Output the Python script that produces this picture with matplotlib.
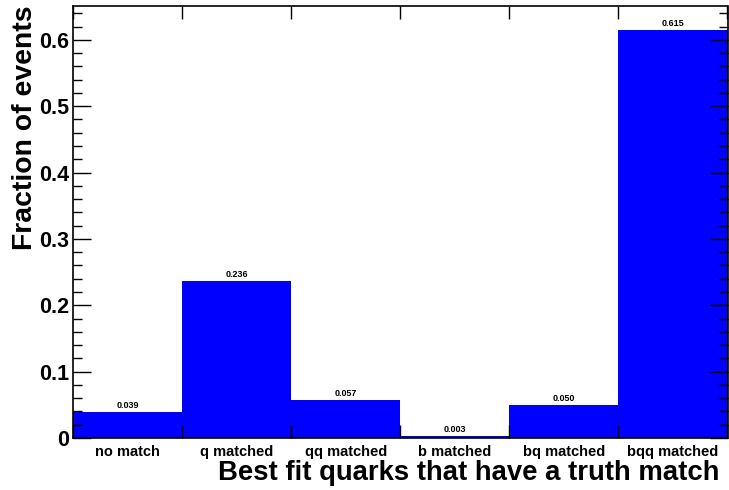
import numpy as np
import matplotlib
matplotlib.use("Agg")
import matplotlib.pyplot as plt
from matplotlib.ticker import MultipleLocator

# data
categories = ["no match", "q matched", "qq matched", "b matched", "bq matched", "bqq matched"]
fractions = [0.039, 0.236, 0.057, 0.003, 0.050, 0.615]

plt.rcParams['font.family'] = ['Liberation Sans', 'DejaVu Sans']
plt.rcParams['font.weight'] = 'bold'

W, H = 729, 490
fig = plt.figure(figsize=(W / 100, H / 100), dpi=100)
ax = fig.add_axes([73 / W, 1 - 438 / H, (727.5 - 73) / W, (438 - 6) / H])

x = np.arange(len(categories))
ax.bar(x, fractions, width=1.0, color='#0000ff', linewidth=0)

for xi, v in zip(x, fractions):
    ax.text(xi, v + 0.003, "%.3f" % v, ha='center', va='bottom', fontsize=6.5, fontweight='bold')

ax.set_xlim(-0.5, len(categories) - 0.5)
ax.set_ylim(0, 0.651)

# x ticks at bin edges, labels in bin centres
ax.set_xticks(np.arange(len(categories) + 1) - 0.5)
ax.set_xticklabels([])
ax.set_xticks(x, minor=True)
ax.set_xticklabels(categories, minor=True, fontsize=10.5, fontweight='bold')
ax.tick_params(axis='x', which='major', direction='in', length=9.5, width=1, top=True)
ax.tick_params(axis='x', which='minor', length=0, pad=5)

ax.yaxis.set_major_locator(MultipleLocator(0.1))
ax.yaxis.set_minor_locator(MultipleLocator(0.02))
ax.yaxis.set_major_formatter(plt.FuncFormatter(lambda v, p: "0" if v == 0 else "%.1f" % v))
ax.tick_params(axis='y', which='major', direction='in', length=13, width=1, right=True, labelsize=15.5, pad=3)
ax.tick_params(axis='y', which='minor', direction='in', length=6.5, width=1, right=True)
for lab in ax.get_yticklabels():
    lab.set_fontweight('bold')

for s in ax.spines.values():
    s.set_linewidth(1.2)

fig.text(720 / W, 10 / H, "Best fit quarks that have a truth match", ha='right', va='baseline',
         fontsize=19.8, fontweight='bold')
fig.text(25 / W, 1 - 5 / H, "Fraction of events", rotation=90, ha='center', va='top',
         fontsize=20.4, fontweight='bold')

fig.savefig("out.png", dpi=100)
